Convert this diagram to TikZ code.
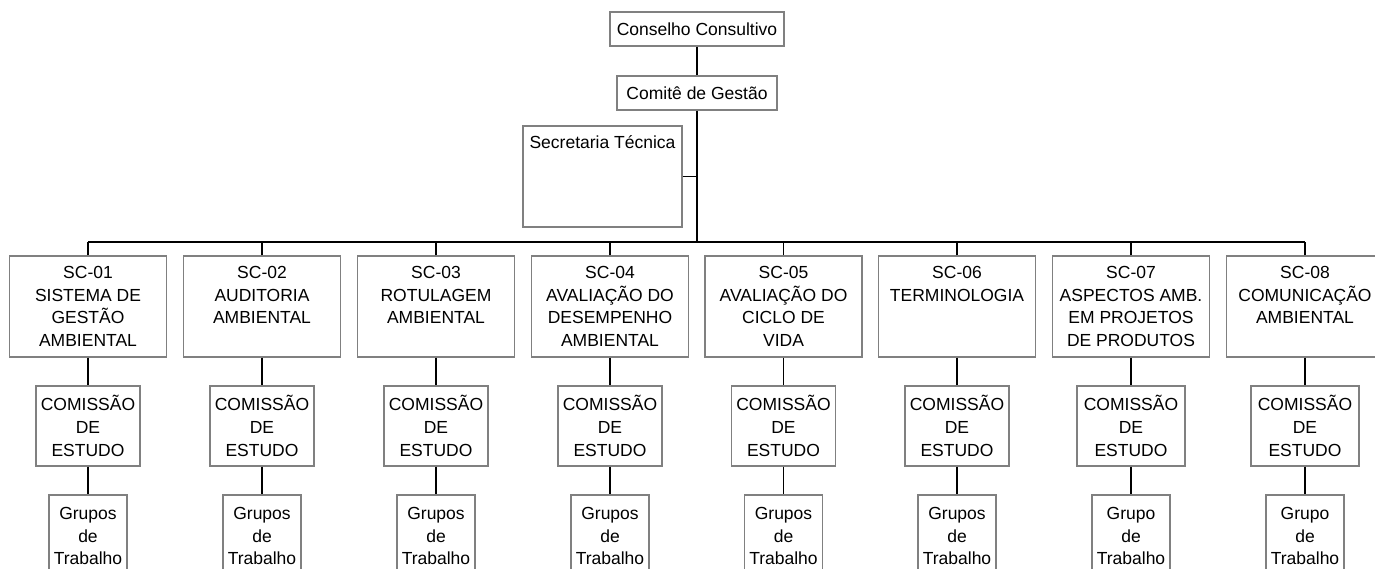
\documentclass[tikz,border=0pt]{standalone}
\usepackage{fontspec}
\setmainfont{Liberation Sans}
\definecolor{boxgray}{HTML}{808080}
\begin{document}
\begin{tikzpicture}[x=1pt,y=-1pt,
  txt/.style={font=\fontsize{17.5}{22.8}\selectfont, align=center, inner sep=0pt},
  box/.style={draw=boxgray, line width=1.1pt, inner sep=0pt},
  topbox/.style={box, minimum width=174pt, minimum height=34pt, txt},
  l1/.style={box, minimum width=157pt, minimum height=101pt},
  l2/.style={box, minimum width=104pt, minimum height=80pt, txt},
  l3/.style={box, minimum width=78pt, minimum height=100pt},
  lab1/.style={txt, anchor=north, yshift=-10.5pt},
  lab3/.style={txt, anchor=north, yshift=-12.5pt},
  conn/.style={line width=1.1pt, black},
  trunk/.style={line width=2pt, black}]
\useasboundingbox (0,0) rectangle (1375,568);
\clip (0,0) rectangle (1375,568);
\fill[white] (0,0) rectangle (1375,568);

\node[topbox] (cc) at (697,29) {Conselho Consultivo};
\node[topbox, minimum width=160pt] (cg) at (697,93) {Comitê de Gestão};
\node[box, minimum width=159pt, minimum height=101pt,
  label={[txt, anchor=north, yshift=-10pt]north:Secretaria Técnica}] (st) at (602.5,176.5) {};
\coordinate (bus) at (697,242);

% level 1
\node[l1, label={[lab1]north:{SC-01\\SISTEMA DE\\GESTÃO\\AMBIENTAL}}] (s1) at (88,306.5) {};
\node[l1, label={[lab1]north:{SC-02\\AUDITORIA\\AMBIENTAL}}] (s2) at (262,306.5) {};
\node[l1, label={[lab1]north:{SC-03\\ROTULAGEM\\AMBIENTAL}}] (s3) at (436,306.5) {};
\node[l1, label={[lab1]north:{SC-04\\AVALIAÇÃO DO\\DESEMPENHO\\AMBIENTAL}}] (s4) at (610,306.5) {};
\node[l1, label={[lab1]north:{SC-05\\AVALIAÇÃO DO\\CICLO DE\\VIDA}}] (s5) at (783.5,306.5) {};
\node[l1, label={[lab1]north:{SC-06\\TERMINOLOGIA}}] (s6) at (957,306.5) {};
\node[l1, label={[lab1]north:{SC-07\\ASPECTOS AMB.\\EM PROJETOS\\DE PRODUTOS}}] (s7) at (1131,306.5) {};
\node[l1, label={[lab1]north:{SC-08\\COMUNICAÇÃO\\AMBIENTAL}}] (s8) at (1305,306.5) {};

% level 2
\node[l2] (c1) at (88,426) {COMISSÃO\\DE\\ESTUDO};
\node[l2] (c2) at (262,426) {COMISSÃO\\DE\\ESTUDO};
\node[l2] (c3) at (436,426) {COMISSÃO\\DE\\ESTUDO};
\node[l2] (c4) at (610,426) {COMISSÃO\\DE\\ESTUDO};
\node[l2] (c5) at (783.5,426) {COMISSÃO\\DE\\ESTUDO};
\node[l2] (c6) at (957,426) {COMISSÃO\\DE\\ESTUDO};
\node[l2, minimum width=108pt] (c7) at (1131,426) {COMISSÃO\\DE\\ESTUDO};
\node[l2, minimum width=108pt] (c8) at (1305,426) {COMISSÃO\\DE\\ESTUDO};

% level 3
\node[l3, label={[lab3]north:{Grupos\\de\\Trabalho}}] (g1) at (88,545) {};
\node[l3, label={[lab3]north:{Grupos\\de\\Trabalho}}] (g2) at (262,545) {};
\node[l3, label={[lab3]north:{Grupos\\de\\Trabalho}}] (g3) at (436,545) {};
\node[l3, label={[lab3]north:{Grupos\\de\\Trabalho}}] (g4) at (610,545) {};
\node[l3, label={[lab3]north:{Grupos\\de\\Trabalho}}] (g5) at (783.5,545) {};
\node[l3, label={[lab3]north:{Grupos\\de\\Trabalho}}] (g6) at (957,545) {};
\node[l3, label={[lab3]north:{Grupo\\de\\Trabalho}}] (g7) at (1131,545) {};
\node[l3, label={[lab3]north:{Grupo\\de\\Trabalho}}] (g8) at (1305,545) {};

% connectors
\draw[conn] (cc) -- (cg);
\draw[trunk] (cg.south) -- (bus);
\draw[conn] (st.east) -- (st.east -| bus);
\draw[conn] (s1.north |- bus) -- (s8.north |- bus);
\foreach \i in {1,...,8} {
  \draw[conn] (s\i.north) -- (s\i.north |- bus);
  \draw[conn] (s\i) -- (c\i);
  \draw[conn] (c\i) -- (g\i);
}
\end{tikzpicture}
\end{document}
